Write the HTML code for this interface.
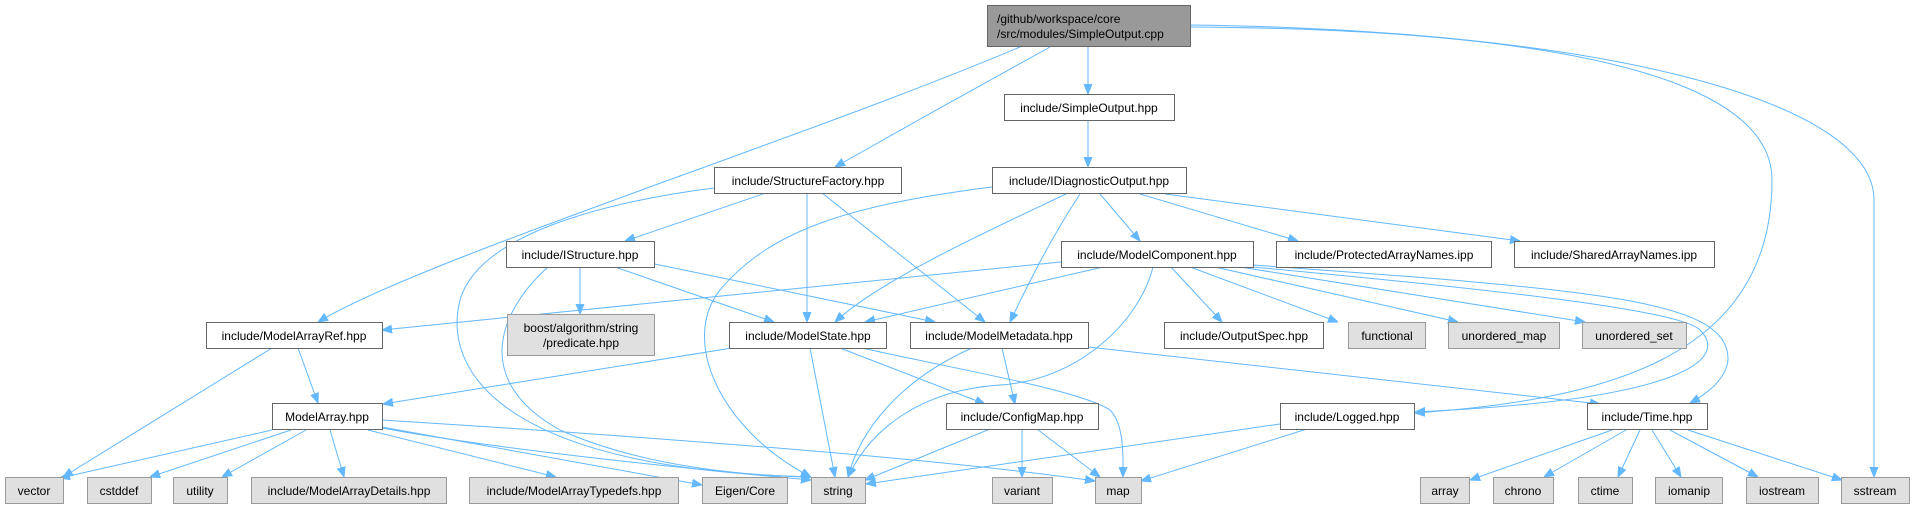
<!DOCTYPE html>
<html><head><meta charset="utf-8"><style>
html,body{margin:0;padding:0;background:#fff;}
svg{display:block;}
text{font-family:"Liberation Sans",Helvetica,sans-serif;font-size:12px;fill:#000;}
.n{fill:#fff;stroke:#666;stroke-width:1;}
.g{fill:#e0e0e0;stroke:#999;stroke-width:1;}
.e{fill:none;stroke:#63b8ff;stroke-width:1;}
</style></head><body>
<svg width="1915" height="508" viewBox="0 0 1915 508" xmlns="http://www.w3.org/2000/svg">
<defs><marker id="a" viewBox="0 0 10 10" refX="10" refY="5" markerWidth="10" markerHeight="10" markerUnits="userSpaceOnUse" orient="auto"><path d="M0,1 L10,5 L0,9 z" fill="#63b8ff" stroke="#63b8ff"/></marker></defs>
<g marker-end="url(#a)" class="e">
<!-- root -->
<path class="e" d="M1020,47 C800,140 420,260 318,322"/>
<path class="e" d="M1050,47 C990,80 900,130 835,167"/>
<path class="e" d="M1088,47 L1088,94"/>
<path class="e" d="M1190,27 C1700,30 1772,120 1772,180 C1772,360 1600,400 1415,413"/>
<path class="e" d="M1190,25 C1600,30 1874,100 1874,200 L1874,477"/>
<path class="e" d="M1088,120 L1088,167"/>
<!-- IDiagnosticOutput -->
<path class="e" d="M992,187 C850,205 770,230 720,290 C680,340 720,430 811,477"/>
<path class="e" d="M1066,194 C990,230 880,280 835,322"/>
<path class="e" d="M1080,194 C1050,240 1030,280 1010,322"/>
<path class="e" d="M1100,194 L1140,241"/>
<path class="e" d="M1140,194 L1298,241"/>
<path class="e" d="M1165,194 L1520,241"/>
<!-- StructureFactory -->
<path class="e" d="M714,188 C620,200 480,230 460,300 C440,380 520,470 811,477"/>
<path class="e" d="M766,193 L625,241"/>
<path class="e" d="M807,193 L807,322"/>
<path class="e" d="M822,193 L985,322"/>
<!-- IStructure -->
<path class="e" d="M548,267 C500,310 470,380 560,430 C650,470 760,476 811,477"/>
<path class="e" d="M580,267 L580,314"/>
<path class="e" d="M615,267 L774,322"/>
<path class="e" d="M645,262 L935,322"/>
<!-- ModelComponent -->
<path class="e" d="M1061,262 L382,330"/>
<path class="e" d="M1103,267 L865,322"/>
<path class="e" d="M1153,267 C1140,320 1080,380 1000,385 C920,390 870,430 848,477"/>
<path class="e" d="M1171,267 L1222,322"/>
<path class="e" d="M1190,267 L1338,322"/>
<path class="e" d="M1215,267 L1458,322"/>
<path class="e" d="M1240,267 L1585,322"/>
<path class="e" d="M1253,267 C1500,290 1680,310 1700,330 C1730,360 1680,400 1415,412"/>
<path class="e" d="M1253,265 C1600,290 1730,300 1728,360 C1726,380 1705,395 1690,403"/>
<!-- ModelArrayRef -->
<path class="e" d="M272,348 L63,477"/>
<path class="e" d="M298,348 L318,403"/>
<!-- ModelState -->
<path class="e" d="M732,348 L383,404"/>
<path class="e" d="M810,348 L835,477"/>
<path class="e" d="M840,348 L985,404"/>
<path class="e" d="M862,348 C960,370 1080,390 1110,410 C1125,425 1123,460 1123,477"/>
<!-- ModelMetadata -->
<path class="e" d="M972,348 C900,380 860,430 848,477"/>
<path class="e" d="M1002,348 L1015,404"/>
<path class="e" d="M1088,347 L1600,404"/>
<!-- ModelArray -->
<path class="e" d="M272,430 L60,478"/>
<path class="e" d="M291,430 L150,477"/>
<path class="e" d="M306,430 L222,477"/>
<path class="e" d="M330,430 L344,477"/>
<path class="e" d="M368,430 L556,477"/>
<path class="e" d="M382,427 L702,485"/>
<path class="e" d="M382,428 C500,450 700,470 811,480"/>
<path class="e" d="M382,420 C700,440 950,460 1095,481"/>
<!-- ConfigMap -->
<path class="e" d="M990,429 L865,480"/>
<path class="e" d="M1022,429 L1022,477"/>
<path class="e" d="M1037,429 L1100,477"/>
<!-- Logged -->
<path class="e" d="M1280,424 L866,484"/>
<path class="e" d="M1307,429 L1141,481"/>
<!-- Time -->
<path class="e" d="M1612,430 L1470,480"/>
<path class="e" d="M1626,430 L1544,477"/>
<path class="e" d="M1640,430 L1618,477"/>
<path class="e" d="M1652,430 L1681,477"/>
<path class="e" d="M1670,430 L1758,477"/>
<path class="e" d="M1688,430 L1842,480"/>
</g>
<!-- nodes -->
<rect x="987.5" y="5.5" width="203" height="41" fill="#999" stroke="#666"/>
<text x="997" y="23">/github/workspace/core</text>
<text x="997" y="38">/src/modules/SimpleOutput.cpp</text>
<rect class="n" x="1004.5" y="94.5" width="170" height="26"/><text x="1089" y="112" text-anchor="middle">include/SimpleOutput.hpp</text>
<rect class="n" x="992.5" y="167.5" width="194" height="26"/><text x="1089" y="185" text-anchor="middle">include/IDiagnosticOutput.hpp</text>
<rect class="n" x="714.5" y="167.5" width="187" height="26"/><text x="808" y="185" text-anchor="middle">include/StructureFactory.hpp</text>
<rect class="n" x="506.5" y="241.5" width="148" height="26"/><text x="580" y="259" text-anchor="middle">include/IStructure.hpp</text>
<rect class="n" x="1061.5" y="241.5" width="192" height="26"/><text x="1157" y="259" text-anchor="middle">include/ModelComponent.hpp</text>
<rect class="n" x="1276.5" y="241.5" width="215" height="26"/><text x="1384" y="259" text-anchor="middle">include/ProtectedArrayNames.ipp</text>
<rect class="n" x="1514.5" y="241.5" width="200" height="26"/><text x="1614" y="259" text-anchor="middle">include/SharedArrayNames.ipp</text>
<rect class="g" x="507.5" y="314.5" width="147" height="41"/><text x="581" y="332" text-anchor="middle">boost/algorithm/string</text><text x="581" y="347" text-anchor="middle">/predicate.hpp</text>
<rect class="n" x="206.5" y="322.5" width="176" height="26"/><text x="294" y="340" text-anchor="middle">include/ModelArrayRef.hpp</text>
<rect class="n" x="729.5" y="322.5" width="157" height="26"/><text x="808" y="340" text-anchor="middle">include/ModelState.hpp</text>
<rect class="n" x="910.5" y="322.5" width="178" height="26"/><text x="999" y="340" text-anchor="middle">include/ModelMetadata.hpp</text>
<rect class="n" x="1164.5" y="322.5" width="159" height="26"/><text x="1244" y="340" text-anchor="middle">include/OutputSpec.hpp</text>
<rect class="g" x="1348.5" y="322.5" width="77" height="26"/><text x="1387" y="340" text-anchor="middle">functional</text>
<rect class="g" x="1448.5" y="322.5" width="111" height="26"/><text x="1504" y="340" text-anchor="middle">unordered_map</text>
<rect class="g" x="1582.5" y="322.5" width="104" height="26"/><text x="1634" y="340" text-anchor="middle">unordered_set</text>
<rect class="n" x="272.5" y="403.5" width="110" height="26"/><text x="327" y="421" text-anchor="middle">ModelArray.hpp</text>
<rect class="n" x="946.5" y="403.5" width="152" height="26"/><text x="1022" y="421" text-anchor="middle">include/ConfigMap.hpp</text>
<rect class="n" x="1280.5" y="403.5" width="134" height="26"/><text x="1347" y="421" text-anchor="middle">include/Logged.hpp</text>
<rect class="n" x="1587.5" y="403.5" width="120" height="26"/><text x="1647" y="421" text-anchor="middle">include/Time.hpp</text>
<rect class="g" x="5.5" y="477.5" width="58" height="26"/><text x="34" y="495" text-anchor="middle">vector</text>
<rect class="g" x="87.5" y="477.5" width="64" height="26"/><text x="119" y="495" text-anchor="middle">cstddef</text>
<rect class="g" x="173.5" y="477.5" width="54" height="26"/><text x="200" y="495" text-anchor="middle">utility</text>
<rect class="g" x="251.5" y="477.5" width="195" height="26"/><text x="349" y="495" text-anchor="middle">include/ModelArrayDetails.hpp</text>
<rect class="g" x="469.5" y="477.5" width="209" height="26"/><text x="574" y="495" text-anchor="middle">include/ModelArrayTypedefs.hpp</text>
<rect class="g" x="702.5" y="477.5" width="85" height="26"/><text x="745" y="495" text-anchor="middle">Eigen/Core</text>
<rect class="g" x="811.5" y="477.5" width="54" height="26"/><text x="838" y="495" text-anchor="middle">string</text>
<rect class="g" x="992.5" y="477.5" width="60" height="26"/><text x="1022" y="495" text-anchor="middle">variant</text>
<rect class="g" x="1095.5" y="477.5" width="46" height="26"/><text x="1118" y="495" text-anchor="middle">map</text>
<rect class="g" x="1420.5" y="477.5" width="49" height="26"/><text x="1445" y="495" text-anchor="middle">array</text>
<rect class="g" x="1493.5" y="477.5" width="60" height="26"/><text x="1523" y="495" text-anchor="middle">chrono</text>
<rect class="g" x="1578.5" y="477.5" width="54" height="26"/><text x="1605" y="495" text-anchor="middle">ctime</text>
<rect class="g" x="1655.5" y="477.5" width="67" height="26"/><text x="1689" y="495" text-anchor="middle">iomanip</text>
<rect class="g" x="1746.5" y="477.5" width="72" height="26"/><text x="1782" y="495" text-anchor="middle">iostream</text>
<rect class="g" x="1841.5" y="477.5" width="68" height="26"/><text x="1875" y="495" text-anchor="middle">sstream</text>
</svg>
</body></html>
